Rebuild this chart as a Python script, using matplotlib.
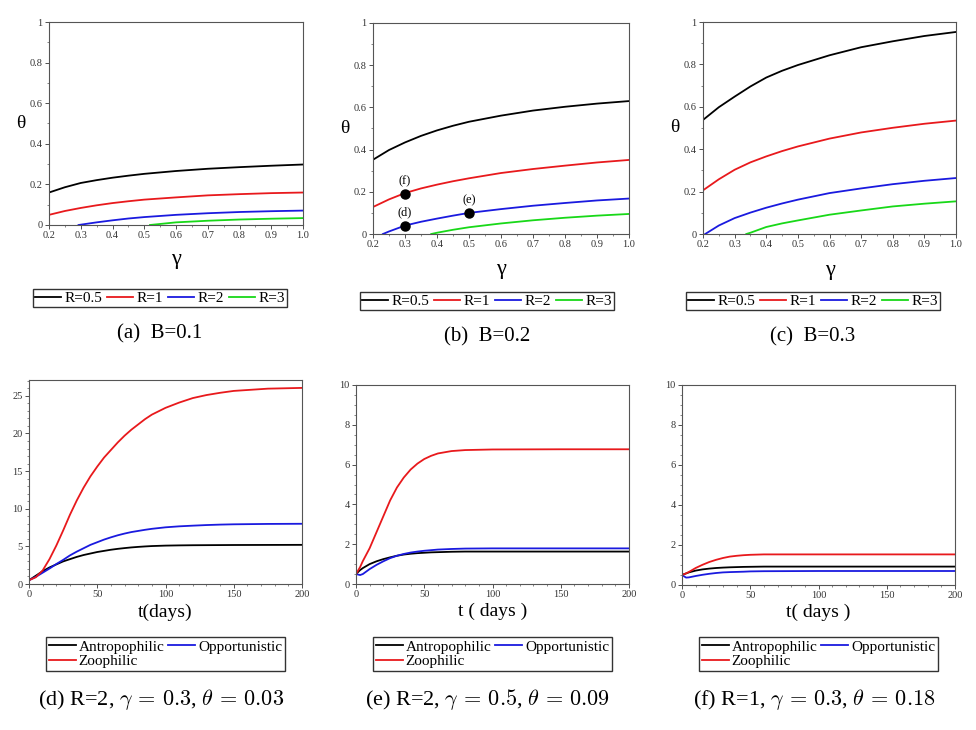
import numpy as np
import matplotlib.pyplot as plt
from matplotlib.ticker import MultipleLocator, FixedLocator

plt.rcParams['font.family'] = ['Liberation Serif', 'DejaVu Serif']
plt.rcParams['mathtext.fontset'] = 'cm'

W, H = 976, 730

# %% data -- top row: theta vs gamma, curves for R = 0.5, 1, 2, 3
gam = [0.2, 0.25, 0.3, 0.35, 0.4, 0.45, 0.5, 0.6, 0.7, 0.8, 0.9, 1.0]
r_labels = ['R=0.5', 'R=1', 'R=2', 'R=3']
r_colors = ['black', '#e8191c', '#1a1adf', '#18d818']
gam_ticks = [0.2, 0.3, 0.4, 0.5, 0.6, 0.7, 0.8, 0.9, 1.0]

# B = 0.1
a_g = [gam, gam, [0.293, 0.35, 0.4, 0.45, 0.5, 0.6, 0.7, 0.8, 0.9, 1.0],
       [0.518, 0.6, 0.7, 0.8, 0.9, 1.0]]
a_t = [[0.160, 0.186, 0.207, 0.221, 0.233, 0.243, 0.252, 0.266, 0.277, 0.285, 0.292, 0.298],
       [0.050, 0.069, 0.084, 0.097, 0.108, 0.117, 0.125, 0.136, 0.146, 0.152, 0.157, 0.160],
       [0.0, 0.013, 0.023, 0.032, 0.039, 0.050, 0.058, 0.064, 0.068, 0.071],
       [0.0, 0.013, 0.021, 0.027, 0.031, 0.034]]

# B = 0.2
b_g = [gam, gam, [0.231, 0.25, 0.3, 0.35, 0.4, 0.45, 0.5, 0.6, 0.7, 0.8, 0.9, 1.0],
       [0.382, 0.4, 0.45, 0.5, 0.6, 0.7, 0.8, 0.9, 1.0]]
b_t = [[0.352, 0.398, 0.434, 0.465, 0.491, 0.513, 0.532, 0.561, 0.585, 0.603, 0.618, 0.630],
       [0.128, 0.164, 0.194, 0.216, 0.234, 0.250, 0.264, 0.289, 0.308, 0.324, 0.339, 0.351],
       [0.0, 0.012, 0.040, 0.058, 0.073, 0.087, 0.100, 0.118, 0.134, 0.147, 0.159, 0.168],
       [0.0, 0.006, 0.020, 0.032, 0.050, 0.065, 0.077, 0.087, 0.095]]

# B = 0.3
c_g = [gam, gam, [0.207, 0.25, 0.3, 0.35, 0.4, 0.45, 0.5, 0.6, 0.7, 0.8, 0.9, 1.0],
       [0.337, 0.35, 0.4, 0.45, 0.5, 0.6, 0.7, 0.8, 0.9, 1.0]]
c_t = [[0.538, 0.598, 0.648, 0.696, 0.738, 0.770, 0.797, 0.843, 0.881, 0.909, 0.934, 0.953],
       [0.206, 0.258, 0.303, 0.338, 0.366, 0.391, 0.413, 0.450, 0.479, 0.501, 0.520, 0.535],
       [0.0, 0.040, 0.075, 0.101, 0.124, 0.144, 0.162, 0.193, 0.215, 0.235, 0.251, 0.264],
       [0.0, 0.006, 0.033, 0.050, 0.064, 0.091, 0.111, 0.130, 0.143, 0.154]]

# marked points on panel (b)
pt_g = [0.3, 0.5, 0.3]
pt_t = [0.04, 0.10, 0.19]
pt_lab = ['(d)', '(e)', '(f)']

# %% data -- bottom row: populations vs time
species = ['Antropophilic', 'Opportunistic', 'Zoophilic']
sp_colors = ['black', '#1a1adf', '#e8191c']

d_t = [0, 5, 10, 15, 20, 25, 30, 35, 40, 45, 50, 55, 60, 65, 70, 75, 80, 85, 90, 100,
       110, 120, 130, 140, 150, 175, 200]
d_ant = [0.5, 1.1, 1.7, 2.2, 2.6, 3.0, 3.3, 3.6, 3.85, 4.05, 4.25, 4.4, 4.55, 4.67, 4.77,
         4.86, 4.93, 4.99, 5.04, 5.1, 5.13, 5.15, 5.16, 5.17, 5.18, 5.19, 5.2]
d_opp = [0.5, 0.95, 1.5, 2.05, 2.65, 3.2, 3.8, 4.3, 4.75, 5.2, 5.55, 5.9, 6.2, 6.47, 6.7,
         6.9, 7.05, 7.2, 7.33, 7.53, 7.66, 7.75, 7.83, 7.89, 7.93, 7.98, 8.0]
d_zoo = [0.5, 0.9, 1.8, 3.3, 5.1, 7.1, 9.2, 11.1, 12.8, 14.3, 15.6, 16.8, 17.8, 18.8,
         19.7, 20.5, 21.2, 21.9, 22.5, 23.4, 24.1, 24.7, 25.1, 25.4, 25.65, 25.95, 26.05]

e_t = [0, 3, 5, 10, 15, 20, 25, 30, 35, 40, 45, 50, 55, 60, 70, 80, 100, 150, 200]
e_ant = [0.5, 0.7, 0.8, 1.0, 1.14, 1.25, 1.34, 1.42, 1.48, 1.52, 1.55, 1.57, 1.59, 1.6,
         1.62, 1.63, 1.63, 1.63, 1.63]
e_opp = [0.5, 0.45, 0.5, 0.75, 0.96, 1.14, 1.3, 1.42, 1.51, 1.58, 1.63, 1.67, 1.7, 1.73,
         1.76, 1.78, 1.79, 1.79, 1.79]
e_zoo = [0.5, 0.85, 1.15, 1.8, 2.6, 3.4, 4.2, 4.85, 5.35, 5.75, 6.05, 6.28, 6.44, 6.56,
         6.68, 6.73, 6.76, 6.77, 6.77]

f_t = [0, 3, 5, 10, 15, 20, 25, 30, 35, 40, 45, 50, 60, 100, 150, 200]
f_ant = [0.5, 0.58, 0.63, 0.72, 0.78, 0.82, 0.85, 0.87, 0.885, 0.895, 0.905, 0.91, 0.92,
         0.92, 0.92, 0.92]
f_opp = [0.5, 0.37, 0.38, 0.45, 0.51, 0.56, 0.6, 0.63, 0.645, 0.655, 0.665, 0.68, 0.69,
         0.7, 0.7, 0.7]
f_zoo = [0.5, 0.58, 0.65, 0.85, 1.01, 1.15, 1.26, 1.35, 1.42, 1.46, 1.49, 1.51, 1.53,
         1.53, 1.53, 1.53]


def box(x0, y0, x1, y1):
    return [x0 / W, 1 - y1 / H, (x1 - x0) / W, (y1 - y0) / H]


def style(ax):
    for s in ax.spines.values():
        s.set_color('#555555')
        s.set_linewidth(0.8)
    ax.tick_params(which='major', direction='out', length=3, width=0.6,
                   labelsize=7.5, colors='#333333', pad=1.5)
    ax.tick_params(which='minor', direction='out', length=1.5, width=0.5, colors='#555555')


leg_kw = dict(loc='center', fontsize=11, frameon=True, fancybox=False,
              edgecolor='black', handletextpad=0.2, borderaxespad=0)

fig = plt.figure(figsize=(W / 100, H / 100), dpi=100)

# %% top row
top = [((49, 22, 303, 225), a_g, a_t, '(a)  B=0.1', 160, 160, 298, 334),
       ((373, 23, 629, 234), b_g, b_t, '(b)  B=0.2', 487, 487, 301, 337),
       ((703, 22, 956, 234), c_g, c_t, '(c)  B=0.3', 813, 813, 301, 337)]

for i, (bx, gs, ts, cap, cx, lx, ly, cy) in enumerate(top):
    ax = fig.add_axes(box(*bx))
    lines = []
    for g, t, c, lab in zip(gs, ts, r_colors, r_labels):
        ln, = ax.plot(g, t, color=c, lw=1.3, label=lab)
        lines.append(ln)
    ax.set_xlim(0.2, 1.0)
    ax.set_ylim(0, 1)
    ax.xaxis.set_major_locator(FixedLocator(gam_ticks))
    ax.set_xticklabels(['0.2', '0.3', '0.4', '0.5', '0.6', '0.7', '0.8', '0.9', '1.0'])
    ax.xaxis.set_minor_locator(MultipleLocator(0.05))
    ax.set_yticks([0, 0.2, 0.4, 0.6, 0.8, 1])
    ax.set_yticklabels(['0', '0.2', '0.4', '0.6', '0.8', '1'])
    ax.yaxis.set_minor_locator(MultipleLocator(0.1))
    style(ax)
    ax.set_xlabel('γ', fontsize=16)
    ax.xaxis.set_label_coords(0.5, -0.125)
    ax.set_ylabel('θ', fontsize=14, rotation=0, va='center', ha='center')
    ax.yaxis.set_label_coords(-0.11, 0.5)
    if i == 1:
        ax.plot(pt_g, pt_t, 'o', color='black', ms=6.5, zorder=5)
        for g, t, lab in zip(pt_g, pt_t, pt_lab):
            ax.annotate(lab, (g, t), xytext=(0, 5), textcoords='offset points',
                        ha='center', va='bottom', fontsize=9)
    fig.legend(handles=lines, bbox_to_anchor=(lx / W, 1 - ly / H), ncol=4,
               handlelength=1.7, borderpad=0.12, columnspacing=0.35, **leg_kw)
    fig.text(cx / W, 1 - cy / H, cap, ha='center', va='center', fontsize=15)

# %% bottom row
bot = [((29, 380, 302, 584), d_t, [d_ant, d_opp, d_zoo], 27.1, 5, 1, 't(days)',
        '(d) R=2, $\\gamma\\,=\\,0.3$, $\\theta\\,=\\,0.03$', 161),
       ((356, 385, 629, 584), e_t, [e_ant, e_opp, e_zoo], 10, 2, 0.5, 't ( days )',
        '(e) R=2, $\\gamma\\,=\\,0.5$, $\\theta\\,=\\,0.09$', 487),
       ((682, 385, 955, 585), f_t, [f_ant, f_opp, f_zoo], 10, 2, 0.5, 't( days )',
        '(f) R=1, $\\gamma\\,=\\,0.3$, $\\theta\\,=\\,0.18$', 814)]

for bx, t, ys, ytop, ymaj, ymin, xl, cap, cx in bot:
    ax = fig.add_axes(box(*bx))
    lines = []
    for y, c, lab in zip(ys, sp_colors, species):
        ln, = ax.plot(t, y, color=c, lw=1.3, label=lab)
        lines.append(ln)
    ax.set_xlim(0, 200)
    ax.set_ylim(0, ytop)
    ax.xaxis.set_major_locator(MultipleLocator(50))
    ax.xaxis.set_minor_locator(MultipleLocator(10))
    ax.yaxis.set_major_locator(MultipleLocator(ymaj))
    ax.yaxis.set_minor_locator(MultipleLocator(ymin))
    style(ax)
    ax.set_xlabel(xl, fontsize=14)
    ax.xaxis.set_label_coords(0.5, -0.095)
    lx = (bx[0] + bx[2]) / 2
    fig.legend(handles=[lines[0], lines[2], lines[1]],
               bbox_to_anchor=(lx / W, 1 - 654 / H), ncol=2,
               handlelength=1.75, borderpad=0.2, labelspacing=0.05,
               columnspacing=0.25, **leg_kw)
    fig.text(cx / W, 1 - 700 / H, cap, ha='center', va='center', fontsize=16)

fig.savefig('out.png', dpi=100)
